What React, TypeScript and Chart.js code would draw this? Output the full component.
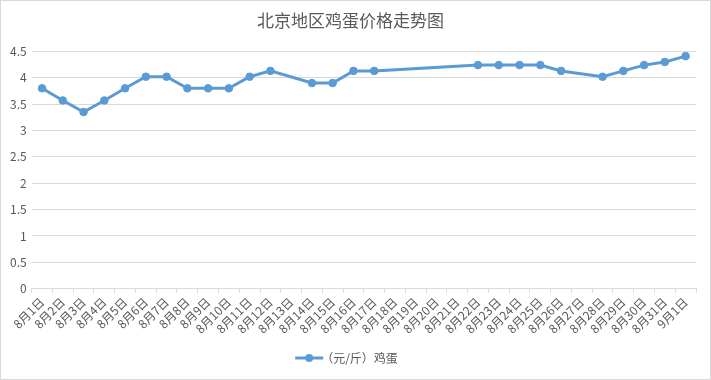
import React, { useEffect, useRef } from "react";
import { Chart, registerables } from "chart.js";

Chart.register(...registerables);

const categories = [
  "8月1日", "8月2日", "8月3日", "8月4日", "8月5日", "8月6日", "8月7日", "8月8日",
  "8月9日", "8月10日", "8月11日", "8月12日", "8月13日", "8月14日", "8月15日", "8月16日",
  "8月17日", "8月18日", "8月19日", "8月20日", "8月21日", "8月22日", "8月23日", "8月24日",
  "8月25日", "8月26日", "8月27日", "8月28日", "8月29日", "8月30日", "8月31日", "9月1日",
];

const eggPrices: (number | null)[] = [
  3.8, 3.57, 3.35, 3.57, 3.8, 4.02, 4.02, 3.8,
  3.8, 3.8, 4.02, 4.13, null, 3.9, 3.9, 4.13,
  4.13, null, null, null, null, 4.24, 4.24, 4.24,
  4.24, 4.13, null, 4.02, 4.13, 4.24, 4.3, 4.41,
];

const seriesName = "（元/斤）鸡蛋";
const titleText = "北京地区鸡蛋价格走势图";

const BLUE = "#5B9BD5";
const TEXT = "#595959";
const GRID = "#d9d9d9";
const FONT = "'Noto Sans CJK SC', 'Noto Sans', sans-serif";

function makeLegendIcon(): HTMLCanvasElement {
  const c = document.createElement("canvas");
  c.width = 30;
  c.height = 10;
  const ctx = c.getContext("2d")!;
  ctx.strokeStyle = BLUE;
  ctx.lineWidth = 3;
  ctx.beginPath();
  ctx.moveTo(1, 5);
  ctx.lineTo(29, 5);
  ctx.stroke();
  ctx.fillStyle = BLUE;
  ctx.beginPath();
  ctx.arc(15, 5, 4, 0, Math.PI * 2);
  ctx.fill();
  return c;
}

export default function App() {
  const ref = useRef<HTMLCanvasElement | null>(null);

  useEffect(() => {
    document.body.style.margin = "0";
    if (!ref.current) return;
    const icon = makeLegendIcon();
    const chart = new Chart(ref.current, {
      type: "line",
      data: {
        labels: categories,
        datasets: [
          {
            label: seriesName,
            data: eggPrices,
            borderColor: BLUE,
            backgroundColor: BLUE,
            borderWidth: 3,
            pointRadius: 3.8,
            pointStyle: "circle",
            pointBackgroundColor: BLUE,
            pointBorderColor: BLUE,
            pointBorderWidth: 1,
            spanGaps: true,
            tension: 0,
          },
        ],
      },
      options: {
        responsive: true,
        maintainAspectRatio: false,
        animation: false,
        layout: { padding: { left: 4, right: 14, top: 4, bottom: 5 } },
        plugins: {
          title: {
            display: true,
            text: titleText,
            color: TEXT,
            font: { family: FONT, size: 17, weight: "normal" },
            padding: { top: 5, bottom: 21 },
          },
          legend: {
            display: true,
            position: "bottom",
            labels: {
              color: TEXT,
              font: { family: FONT, size: 12 },
              usePointStyle: true,
              generateLabels: () => [
                {
                  text: seriesName,
                  fillStyle: BLUE,
                  strokeStyle: BLUE,
                  lineWidth: 0,
                  pointStyle: icon as any,
                  hidden: false,
                  datasetIndex: 0,
                  fontColor: TEXT,
                } as any,
              ],
              padding: 14,
            },
          },
          tooltip: { enabled: false },
        },
        scales: {
          x: {
            offset: true,
            grid: {
              display: true,
              drawOnChartArea: false,
              drawTicks: true,
              tickLength: 4,
              color: GRID,
              offset: true,
            },
            border: { display: true, color: GRID },
            ticks: {
              color: TEXT,
              font: { family: FONT, size: 12 },
              maxRotation: 45,
              minRotation: 45,
              autoSkip: false,
              padding: 2,
            },
          },
          y: {
            min: 0,
            max: 4.5,
            grid: { color: GRID, drawTicks: false },
            border: { display: false },
            ticks: {
              stepSize: 0.5,
              color: TEXT,
              font: { family: FONT, size: 12 },
              padding: 5,
              callback: (v: any) => String(Number(v)),
            },
          },
        },
      },
    });
    return () => chart.destroy();
  }, []);

  return (
    <div
      style={{
        position: "absolute",
        left: 0,
        top: 0,
        width: 711,
        height: 380,
        boxSizing: "border-box",
        border: "1px solid #d9d9d9",
        background: "#fff",
      }}
    >
      <canvas ref={ref} />
    </div>
  );
}
